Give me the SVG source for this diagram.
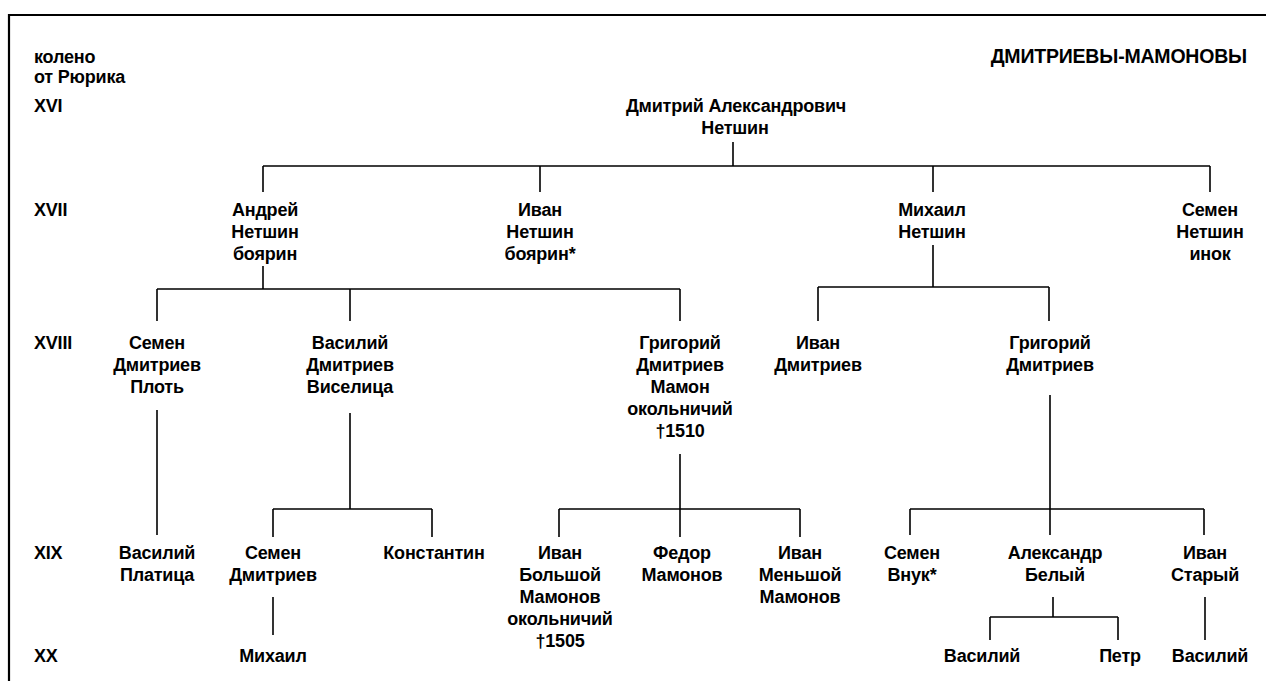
<svg xmlns="http://www.w3.org/2000/svg" width="1266" height="681" viewBox="0 0 1266 681">
<style>
text{font-family:"Liberation Sans",Arial,sans-serif;font-size:18px;font-weight:bold;fill:#000;letter-spacing:-0.2px}
.n text{text-anchor:middle}
.l{text-anchor:start}
.c path{stroke:#000;stroke-width:1.6;fill:none}
</style>
<rect width="1266" height="681" fill="#fff"/>
<path d="M9 681 V15 H1266" stroke="#000" stroke-width="2.2" fill="none"/>
<g id="legend">
<text class="l" x="34" y="63">колено</text>
<text class="l" x="34" y="83">от Рюрика</text>
<text class="l" x="34" y="112">XVI</text>
<text class="l" x="34" y="216">XVII</text>
<text class="l" x="34" y="349">XVIII</text>
<text class="l" x="34" y="559">XIX</text>
<text class="l" x="34" y="662">XX</text>
</g>
<g id="title"><text x="1247" y="63" style="text-anchor:end;font-size:19.5px">ДМИТРИЕВЫ-МАМОНОВЫ</text></g>
<g class="c" id="connectors">
<path d="M733 142V166M263 166H1210M263 166V192M540 166V192M933 166V192M1210 166V192"/>
<path d="M263 266V289M157 289H680M157 289V321M350 289V321M680 289V321"/>
<path d="M933 245V287M818 287H1049M818 287V321M1049 287V321"/>
<path d="M157 410V535"/>
<path d="M350 413V509M273 509H432M273 509V537M432 509V537"/>
<path d="M680 454V509M559 509H800M559 509V537M680 509V537M800 509V537"/>
<path d="M1050 395V535M910 509H1204M910 509V535M1204 509V535"/>
<path d="M273 597V635"/>
<path d="M1053 597V617M990 617H1118M990 617V640M1118 617V640"/>
<path d="M1205 597V640"/>
</g>
<g class="n" id="n-dmitry"><text x="736" y="112">Дмитрий Александрович</text><text x="735" y="134">Нетшин</text></g>
<g class="n" id="n-andrey"><text x="265" y="216">Андрей</text><text x="265" y="238">Нетшин</text><text x="265" y="260">боярин</text></g>
<g class="n" id="n-ivan1"><text x="540" y="216">Иван</text><text x="540" y="238">Нетшин</text><text x="540" y="260">боярин*</text></g>
<g class="n" id="n-mikhail1"><text x="932" y="216">Михаил</text><text x="932" y="238">Нетшин</text></g>
<g class="n" id="n-semen1"><text x="1210" y="216">Семен</text><text x="1210" y="238">Нетшин</text><text x="1210" y="260">инок</text></g>
<g class="n" id="n-semen2"><text x="157" y="349">Семен</text><text x="157" y="371">Дмитриев</text><text x="157" y="393">Плоть</text></g>
<g class="n" id="n-vasily1"><text x="350" y="349">Василий</text><text x="350" y="371">Дмитриев</text><text x="350" y="393">Виселица</text></g>
<g class="n" id="n-grigory1"><text x="680" y="349">Григорий</text><text x="680" y="371">Дмитриев</text><text x="680" y="393">Мамон</text><text x="680" y="415">окольничий</text><text x="680" y="437">†1510</text></g>
<g class="n" id="n-ivan2"><text x="818" y="349">Иван</text><text x="818" y="371">Дмитриев</text></g>
<g class="n" id="n-grigory2"><text x="1050" y="349">Григорий</text><text x="1050" y="371">Дмитриев</text></g>
<g class="n" id="n-vasily2"><text x="157" y="559">Василий</text><text x="157" y="581">Платица</text></g>
<g class="n" id="n-semen3"><text x="273" y="559">Семен</text><text x="273" y="581">Дмитриев</text></g>
<g class="n" id="n-konstantin"><text x="434" y="559">Константин</text></g>
<g class="n" id="n-ivan3"><text x="560" y="559">Иван</text><text x="560" y="581">Большой</text><text x="560" y="603">Мамонов</text><text x="560" y="625">окольничий</text><text x="560" y="647">†1505</text></g>
<g class="n" id="n-fedor"><text x="682" y="559">Федор</text><text x="682" y="581">Мамонов</text></g>
<g class="n" id="n-ivan4"><text x="800" y="559">Иван</text><text x="800" y="581">Меньшой</text><text x="800" y="603">Мамонов</text></g>
<g class="n" id="n-semen4"><text x="912" y="559">Семен</text><text x="912" y="581">Внук*</text></g>
<g class="n" id="n-alexandr"><text x="1055" y="559">Александр</text><text x="1055" y="581">Белый</text></g>
<g class="n" id="n-ivan5"><text x="1205" y="559">Иван</text><text x="1205" y="581">Старый</text></g>
<g class="n" id="n-mikhail2"><text x="273" y="662">Михаил</text></g>
<g class="n" id="n-vasily3"><text x="982" y="662">Василий</text></g>
<g class="n" id="n-petr"><text x="1120" y="662">Петр</text></g>
<g class="n" id="n-vasily4"><text x="1210" y="662">Василий</text></g>
</svg>
